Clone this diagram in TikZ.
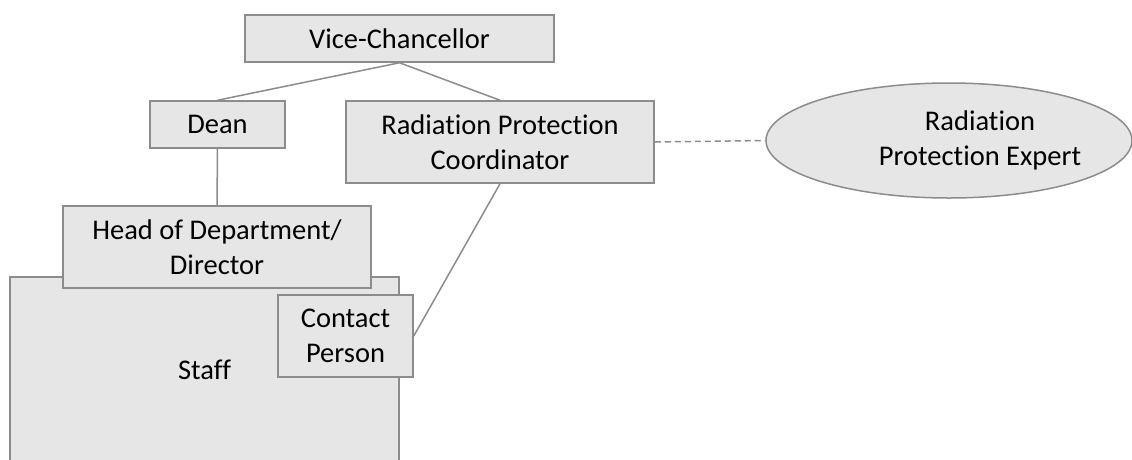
\documentclass[tikz,border=0pt]{standalone}
\usepackage{fontspec}
\setmainfont{Carlito}[Ligatures={NoCommon}]
\usetikzlibrary{shapes.geometric}
\definecolor{boxfill}{HTML}{E6E6E6}
\definecolor{boxline}{HTML}{8C8C8C}
\tikzset{
  orgbox/.style={draw=boxline, fill=boxfill, line width=1.5pt, inner sep=0pt,
    align=center, font=\fontsize{28.5}{35}\selectfont, text=black},
  conn/.style={draw=boxline, line width=1.5pt},
}
\begin{document}
\begin{tikzpicture}[x=1pt,y=-1pt]
\useasboundingbox (0,0) rectangle (1132,459);
\clip (0,0) rectangle (1132,459);
% nodes
\node[orgbox, minimum width=389pt, minimum height=186pt] (staff) at (204.5,370) {Staff};
\node[orgbox, minimum width=308pt, minimum height=82pt] (hod) at (217,247) {Head of Department/\\Director};
\node[orgbox, minimum width=135pt, minimum height=82pt] (contact) at (345.5,336) {Contact\\Person};
\node[orgbox, minimum width=309pt, minimum height=47pt] (vc) at (399.5,38.5) {Vice-Chancellor};
\node[orgbox, minimum width=135pt, minimum height=47pt] (dean) at (217.5,124.5) {Dean};
\node[orgbox, minimum width=308pt, minimum height=82pt] (rpc) at (500,142) {Radiation Protection\\Coordinator};
\node[orgbox, ellipse, minimum width=366pt, minimum height=115pt] (rpe) at (949,140.5) {};
\node[align=center, font=\fontsize{28.5}{35}\selectfont, text=black, inner sep=0pt] (rpetext) at (980,140.5) {Radiation\\Protection Expert};
% connectors
\draw[conn] (vc.south) -- (dean.north);
\draw[conn] (vc.south) -- (rpc.north);
\draw[conn] (dean.south) -- (hod.north);
\draw[conn] (rpc.south) -- (contact.east);
\draw[conn, dash pattern=on 6pt off 4pt] (rpc.east) -- (rpe.west);
\end{tikzpicture}
\end{document}
